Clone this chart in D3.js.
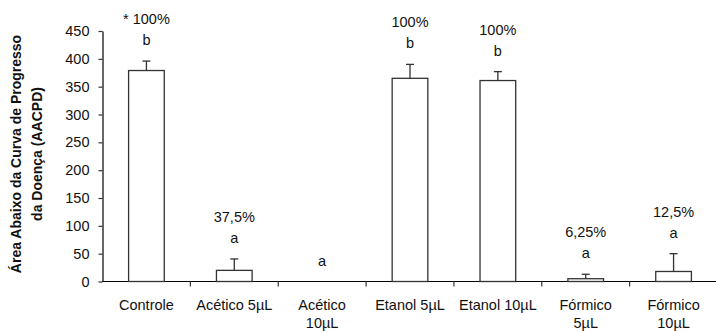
<!DOCTYPE html>
<html>
<head>
<meta charset="utf-8">
<script src="https://cdn.jsdelivr.net/npm/d3@7"></script>
<style>
  html, body { margin: 0; padding: 0; background: #fff; }
  svg { display: block; }
  text { font-family: "Liberation Sans", Arial, sans-serif; fill: #111; }
</style>
</head>
<body>
<svg id="chart" width="716" height="331"></svg>
<script>
// Treatments (line breaks mark wrapped tick labels)
const categories = ["Controle", "Acético 5µL", "Acético\n10µL", "Etanol 5µL", "Etanol 10µL", "Fórmico\n5µL", "Fórmico\n10µL"];
// AACPD means and their standard errors
const aacpd = [379, 20, 0, 365, 361, 5, 18];
const errors = [17, 20.5, 0, 25, 16, 8, 32];
// Incidence labels and significance letters
const incidence = ["* 100%", "37,5%", "", "100%", "100%", "6,25%", "12,5%"];
const letters = ["b", "a", "a", "b", "b", "a", "a"];
const yTicks = [0, 50, 100, 150, 200, 250, 300, 350, 400, 450];

const svg = d3.select("#chart");
const plotLeft = 102.5, plotRight = 717.5, plotTop = 31, plotBottom = 281.5;

const x = d3.scaleBand().domain(categories).range([plotLeft, plotRight])
  .paddingInner(0.594).paddingOuter(0.297);
const y = d3.scaleLinear().domain([0, 450]).range([plotBottom, plotTop]);

// Y axis
const yAxis = svg.append("g")
  .attr("transform", `translate(${plotLeft},0)`)
  .call(d3.axisLeft(y).tickValues(yTicks).tickSize(4).tickPadding(9).tickSizeOuter(0));
yAxis.select(".domain").attr("stroke", "#000").attr("stroke-width", 1.2);
yAxis.selectAll(".tick line").attr("stroke", "#333").attr("stroke-width", 1.2);
yAxis.selectAll(".tick text").attr("font-size", 14.5).attr("fill", "#111")
  .style("font-family", '"Liberation Sans", Arial, sans-serif');

// X axis line with ticks between categories
const step = x.step();
svg.append("line")
  .attr("x1", plotLeft).attr("x2", 716).attr("y1", y(0)).attr("y2", y(0))
  .attr("stroke", "#000").attr("stroke-width", 1.2);
svg.selectAll(".xtick").data(categories.slice(1)).join("line")
  .attr("class", "xtick")
  .attr("x1", d => x(d) - x.paddingInner() * step / 2)
  .attr("x2", d => x(d) - x.paddingInner() * step / 2)
  .attr("y1", y(0)).attr("y2", y(0) + 5)
  .attr("stroke", "#333").attr("stroke-width", 1.2);

// Category labels
svg.selectAll(".xlab").data(categories).join("text")
  .attr("class", "xlab")
  .attr("text-anchor", "middle")
  .attr("font-size", 14.5)
  .each(function (d) {
    const cx = x(d) + x.bandwidth() / 2;
    d3.select(this).selectAll("tspan").data(d.split("\n")).join("tspan")
      .attr("x", cx)
      .attr("y", (s, i) => 309.5 + i * 18)
      .text(s => s);
  });

// Bars
svg.selectAll(".bar").data(categories).join("rect")
  .attr("class", "bar")
  .attr("x", d => x(d))
  .attr("width", x.bandwidth())
  .attr("y", (d, i) => y(aacpd[i]))
  .attr("height", (d, i) => y(0) - y(aacpd[i]))
  .attr("fill", "#fff")
  .attr("stroke", "#333")
  .attr("stroke-width", 1.3);

// Error bars (upper side only)
const errTop = i => y(aacpd[i] + errors[i]);
categories.forEach((d, i) => {
  if (!(errors[i] > 0)) return;
  const cx = x(d) + x.bandwidth() / 2;
  svg.append("line")
    .attr("x1", cx).attr("x2", cx)
    .attr("y1", y(aacpd[i])).attr("y2", errTop(i))
    .attr("stroke", "#333").attr("stroke-width", 1.3);
  svg.append("line")
    .attr("x1", cx - 4).attr("x2", cx + 4)
    .attr("y1", errTop(i)).attr("y2", errTop(i))
    .attr("stroke", "#333").attr("stroke-width", 1.3);
});

// Significance letters and incidence labels above each bar
categories.forEach((d, i) => {
  const cx = x(d) + x.bandwidth() / 2;
  const base = errTop(i) - 16;
  svg.append("text").attr("x", cx).attr("y", base)
    .attr("text-anchor", "middle").attr("font-size", 14.5).text(letters[i]);
  if (incidence[i]) {
    svg.append("text").attr("x", cx).attr("y", base - 21)
      .attr("text-anchor", "middle").attr("font-size", 14.5).text(incidence[i]);
  }
});

// Y axis title
const title = svg.append("text")
  .attr("transform", "translate(0,154) rotate(-90)")
  .attr("text-anchor", "middle")
  .attr("font-size", 14)
  .attr("font-weight", "bold");
title.append("tspan").attr("x", 0).attr("y", 21).text("Área Abaixo da Curva de Progresso");
title.append("tspan").attr("x", 0).attr("y", 42).text("da Doença (AACPD)");
</script>
</body>
</html>
